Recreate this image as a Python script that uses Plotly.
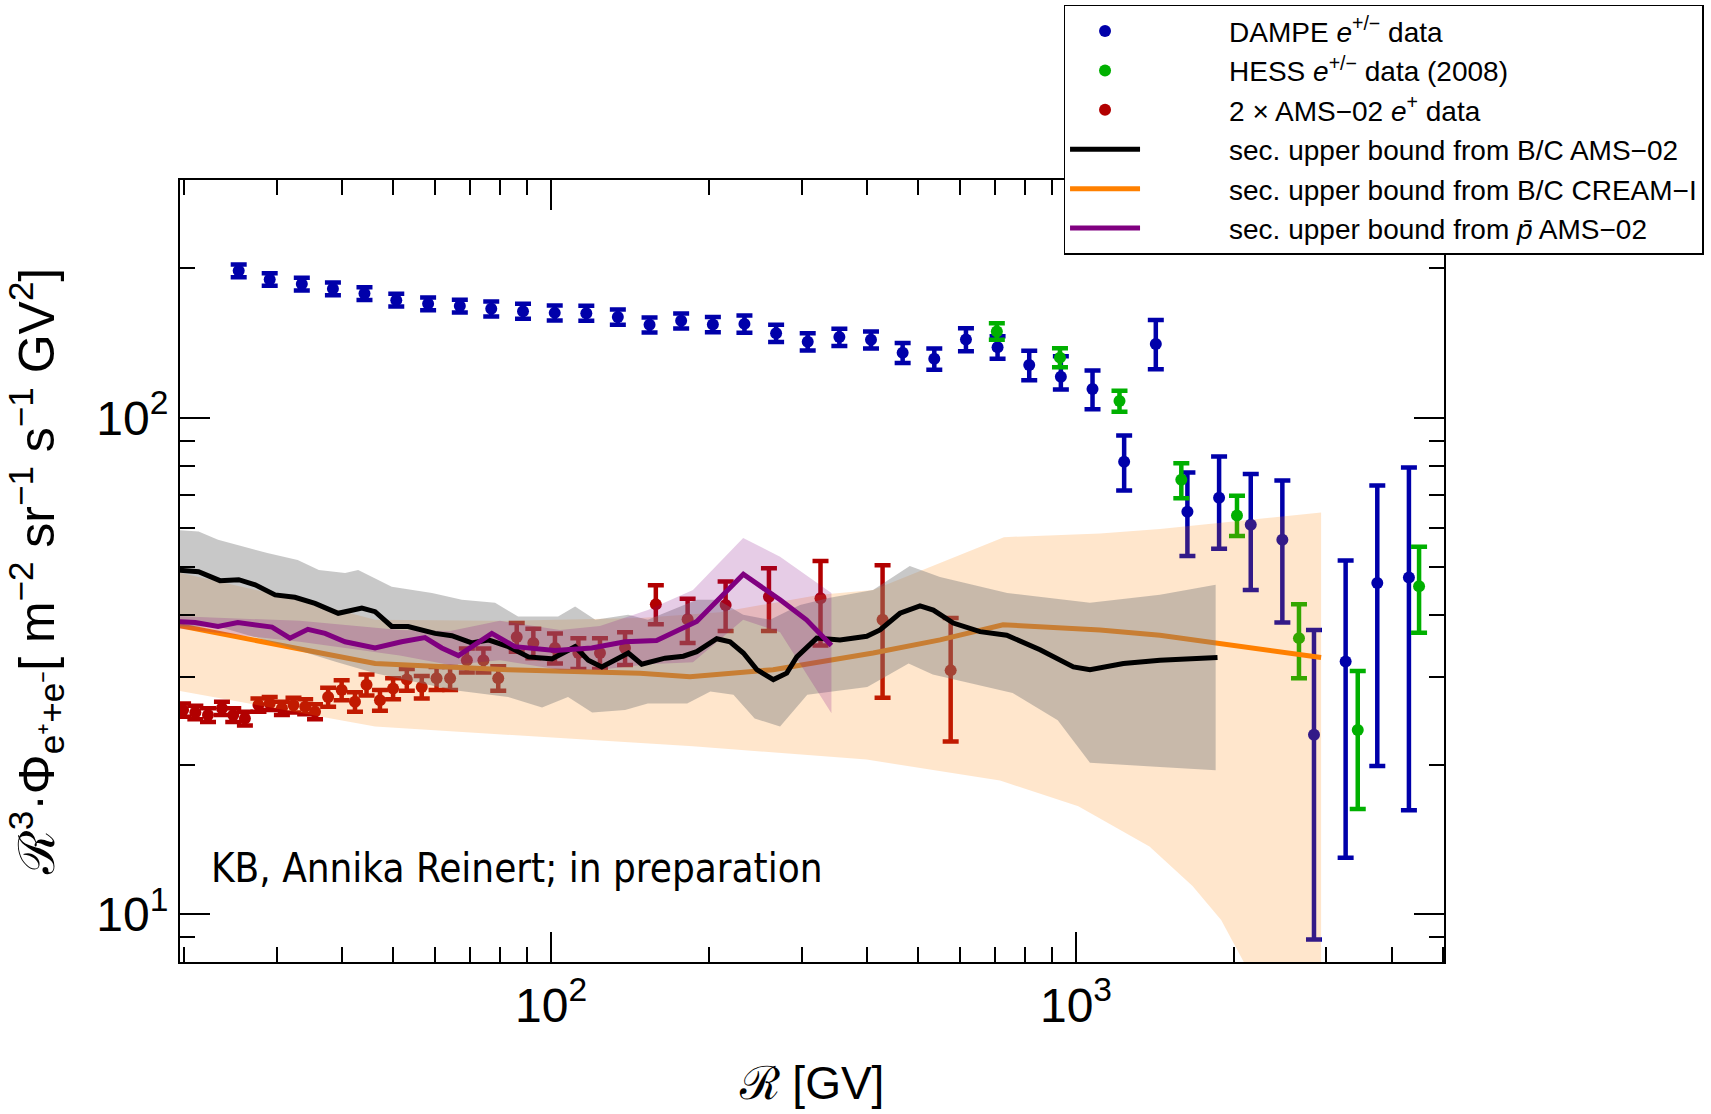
import plotly.graph_objects as go

# ---------------- DAMPE e+/- data ----------------
dampe_R = [25.4, 29.1, 33.5, 38.4, 44.1, 50.7, 58.3, 67.0, 76.9, 88.4, 101.6, 116.7, 134.0,
           154.0, 176.9, 203.3, 233.5, 268.3, 308.2, 354.1, 406.8, 467.4, 537.0, 617.0,
           708.8, 814.4, 935.6, 1075, 1235, 1419, 1630, 1873, 2152, 2472, 2840, 3263, 3749, 4307]
dampe_flux = [197.7, 190.0, 186.0, 182.0, 178.0, 172.6, 169.7, 167.9, 165.8, 164.0, 162.7, 162.5,
              159.6, 153.9, 156.8, 154.2, 154.6, 148.1, 142.3, 145.4, 143.6, 135.2, 131.5, 143.8,
              138.7, 127.8, 121.0, 114.3, 81.6, 140.9, 64.7, 69.0, 60.9, 56.8, 23.0, 32.3, 46.5, 47.7]
dampe_hi = [203.5, 195.6, 191.5, 187.4, 183.3, 177.8, 174.8, 173.0, 171.6, 169.7, 168.4, 168.2,
            165.2, 159.3, 162.3, 159.6, 160.8, 154.0, 148.0, 151.2, 149.3, 141.5, 138.0, 151.5,
            146.0, 136.5, 133.0, 124.5, 92.1, 157.5, 77.6, 83.6, 77.1, 74.8, 37.4, 51.6, 73.1, 79.4]
dampe_lo = [191.9, 184.4, 180.5, 176.6, 172.7, 167.5, 164.6, 162.9, 160.0, 158.3, 157.0, 156.8,
            154.0, 148.5, 151.3, 148.8, 148.4, 142.2, 136.6, 139.6, 137.9, 129.0, 125.0, 136.2,
            131.5, 119.0, 114.0, 104.0, 71.4, 125.3, 52.7, 54.5, 45.0, 38.7, 8.9, 13.0, 19.9, 16.2]

# ---------------- HESS e+/- data (2008) ----------------
hess_R = [706.5, 932, 1210, 1587, 2026, 2659, 3441, 4503]
hess_flux = [149.2, 132.2, 108.1, 75.0, 63.6, 36.0, 23.5, 45.8]
hess_hi = [155.1, 138.1, 113.4, 81.0, 69.7, 42.1, 30.9, 55.0]
hess_lo = [143.6, 126.4, 102.9, 68.9, 57.8, 29.9, 16.3, 36.9]

# ---------------- 2 x AMS-02 e+ data ----------------
ams_R = [19.9, 21.0, 22.2, 23.6, 24.8, 26.1, 27.7, 29.1, 30.7, 32.3, 34.0, 35.5, 37.6, 39.9,
         42.3, 44.5, 47.2, 50.0, 53.1, 56.7, 60.5, 64.2, 69.1, 74.3, 79.3, 86.0, 92.5, 101.7,
         112.7, 123.9, 138.3, 158.3, 182.0, 215.0, 260.0, 326.0, 428.0, 577.0]
ams_flux = [25.8, 25.5, 25.2, 26.0, 25.2, 24.8, 26.4, 26.6, 26.0, 26.4, 26.2, 25.6, 27.4, 28.3,
            26.8, 29.0, 27.0, 28.5, 29.7, 28.7, 29.9, 29.9, 32.5, 32.5, 29.9, 36.2, 35.2, 34.4,
            33.6, 33.6, 34.4, 42.1, 39.3, 42.0, 43.6, 43.3, 39.2, 31.0]
ams_hi = [26.6, 26.3, 26.0, 26.8, 26.0, 25.6, 27.2, 27.4, 26.8, 27.3, 27.1, 26.5, 28.6, 29.6,
          28.0, 30.4, 28.3, 29.9, 31.2, 30.2, 31.5, 31.5, 34.3, 34.3, 31.6, 38.6, 37.6, 36.8,
          36.0, 36.0, 37.0, 46.0, 43.2, 46.8, 49.8, 51.5, 50.5, 39.5]
ams_lo = [25.0, 24.7, 24.4, 25.2, 24.4, 24.0, 25.6, 25.8, 25.2, 25.5, 25.3, 24.7, 26.2, 27.0,
          25.6, 27.6, 25.7, 27.1, 28.2, 27.2, 28.3, 28.3, 30.7, 30.7, 28.2, 33.8, 32.8, 32.0,
          31.2, 31.2, 31.8, 38.4, 35.2, 37.2, 37.2, 34.8, 27.3, 22.3]

# ---------------- secondary upper bound from B/C AMS-02 (black) ----------------
bc_ams_R = [19.2, 21.3, 23.4, 25.4, 27.3, 29.8, 32.5, 35.5, 39.3, 43.6, 46.2, 49.7, 53.4, 60.1,
            64.7, 70.6, 75.9, 82.9, 90.5, 100.3, 111.1, 117.7, 124.9, 140.3, 148.8, 164.8, 178.6,
            189.4, 206.8, 219.2, 232.4, 246.5, 265.1, 281.1, 293.8, 320.6, 355.1, 399.3, 423.2,
            462.0, 504.4, 534.7, 583.7, 656.3, 737.9, 854.0, 988.3, 1063, 1231, 1445, 1860]
bc_ams_flux = [49.4, 49.0, 47.0, 47.2, 46.1, 44.0, 43.5, 42.3, 40.4, 41.4, 40.7, 38.0, 38.0, 36.8,
               36.4, 35.2, 35.7, 34.6, 33.0, 32.7, 34.6, 32.5, 31.5, 33.6, 31.9, 32.8, 33.1,
               33.8, 35.9, 35.4, 33.6, 31.1, 29.7, 30.6, 33.0, 36.0, 35.7, 36.3, 37.4,
               40.4, 41.8, 41.0, 38.6, 37.1, 36.5, 34.1, 31.5, 31.1, 32.0, 32.5, 32.9]
bc_ams_band_R_up = [19.2, 21.3, 23.2, 28.8, 32.9, 36.1, 40.5, 42.9, 49.7, 59.3, 67.6, 78.2, 86.5,
                    103.1, 111.1, 121.4, 140.2, 152.9, 189.6, 207.6, 232.2, 261.3, 298.0, 339.7,
                    410.4, 482.2, 550.6, 739.5, 1063, 1445, 1845]
bc_ams_band_up = [59.5, 59.0, 56.8, 53.4, 51.7, 49.4, 48.7, 49.4, 45.7, 44.4, 43.0, 42.4, 39.8,
                  39.8, 41.7, 39.2, 40.1, 39.2, 43.0, 43.0, 40.1, 39.2, 42.0, 43.4,
                  45.0, 50.3, 47.8, 44.4, 42.4, 44.0, 46.1]
bc_ams_band_R_lo = [19.2, 23.2, 29.8, 38.7, 46.2, 64.9, 82.8, 96.1, 107.7, 119.7, 138.3, 152.8,
                    166.4, 181.6, 201.1, 222.5, 244.2, 273.0, 307.6, 400.2, 479.7, 533.5, 757.3,
                    922.9, 1063, 1445, 1845]
bc_ams_band_lo = [38.0, 38.0, 35.2, 32.3, 30.6, 28.3, 27.4, 26.1, 27.4, 25.5, 25.8, 26.6,
                  26.6, 26.6, 28.1, 27.7, 24.8, 23.9, 27.7, 28.7, 32.0, 30.4, 27.9,
                  24.6, 20.2, 19.8, 19.5]

# ---------------- secondary upper bound from B/C CREAM-I (orange) ----------------
bc_cream_R = [19.2, 46.2, 82.8, 147.7, 183.9, 264.8, 410.6, 550.8, 726, 1111, 1445, 2930]
bc_cream_flux = [38.3, 32.0, 31.1, 30.6, 30.1, 31.1, 33.6, 35.7, 38.3, 37.4, 36.5, 32.9]
bc_cream_band_R_up = [19.2, 33.2, 46.2, 79.9, 147.7, 209.8, 325.3, 410.4, 728.7, 1111, 1445, 2930]
bc_cream_band_up = [49.0, 43.0, 39.2, 39.0, 39.5, 40.6, 44.0, 45.0, 57.5, 58.5, 59.7, 64.5]
bc_cream_band_R_lo = [19.2, 46.2, 186.3, 398.9, 716.5, 1010, 1380, 1667, 1890, 2087, 2330, 2671, 2930]
bc_cream_band_lo = [28.3, 23.9, 21.8, 20.5, 18.6, 16.5, 13.7, 11.4, 9.74, 8.02, 6.4, 4.6, 3.5]

# ---------------- secondary upper bound from pbar AMS-02 (purple) ----------------
pbar_R = [19.2, 21.0, 23.2, 25.3, 29.4, 31.8, 34.4, 37.1, 40.5, 46.2, 51.9, 57.5, 61.9, 66.6,
          77.1, 85.3, 101.7, 119.5, 138.3, 158.8, 189.4, 232.4, 273.0, 306.5, 342.0]
pbar_flux = [38.9, 38.7, 38.0, 38.7, 37.9, 36.0, 37.5, 36.8, 35.4, 34.4, 35.4, 36.1, 34.4, 33.2,
             36.8, 34.6, 34.0, 34.4, 35.4, 35.6, 38.9, 48.4, 43.0, 39.2, 34.8]
pbar_band_R = [19.2, 33.2, 51.5, 64.2, 79.9, 104.0, 123.9, 152.9, 186.3, 232.2, 273.0, 342.0]
pbar_band_up = [39.9, 39.0, 37.4, 37.2, 39.0, 37.4, 38.1, 41.0, 45.0, 57.3, 52.5, 44.4]
pbar_band_lo = [37.7, 35.4, 33.2, 31.8, 32.5, 31.1, 31.1, 31.9, 32.2, 39.2, 37.0, 25.4]

BLUE = "rgb(0,0,170)"
GREEN = "rgb(0,176,0)"
RED = "rgb(178,0,0)"
BLACK = "black"
ORANGE = "rgb(255,128,0)"
PURPLE = "rgb(128,0,128)"

TEXT_FONT = "Liberation Sans, Arial, Helvetica, sans-serif"
NARROW_FONT = "Liberation Sans Narrow, Arial Narrow, Liberation Sans, sans-serif"
PAD = "\u2003\u2003\u2003"  # gap between legend symbol and label


def data_trace(R, flux, hi, lo, color, name, rank):
    return go.Scatter(
        x=R, y=flux, mode="markers", name=PAD + name, legendrank=rank,
        marker=dict(color=color, size=12, line=dict(width=0)),
        error_y=dict(type="data", symmetric=False,
                     array=[h - v for v, h in zip(flux, hi)],
                     arrayminus=[v - l for v, l in zip(flux, lo)],
                     color=color, thickness=4.5, width=8),
        hoverinfo="x+y",
    )


def band_trace(R_up, up, R_lo, lo, fillcolor):
    return go.Scatter(
        x=list(R_up) + list(R_lo)[::-1], y=list(up) + list(lo)[::-1],
        mode="lines", fill="toself", fillcolor=fillcolor,
        line=dict(width=0, color=fillcolor), showlegend=False, hoverinfo="skip",
    )


def line_trace(R, flux, color, name, rank):
    return go.Scatter(x=R, y=flux, mode="lines", name=PAD + name, legendrank=rank,
                      line=dict(color=color, width=5))


fig = go.Figure()

# measurements sit underneath the translucent bands
fig.add_trace(data_trace(dampe_R, dampe_flux, dampe_hi, dampe_lo, BLUE,
                         "DAMPE <i>e</i><sup>+/−</sup> data", 1))
fig.add_trace(data_trace(hess_R, hess_flux, hess_hi, hess_lo, GREEN,
                         "HESS <i>e</i><sup>+/−</sup> data (2008)", 2))
fig.add_trace(data_trace(ams_R, ams_flux, ams_hi, ams_lo, RED,
                         "2 × AMS−02 <i>e</i><sup>+</sup> data", 3))

fig.add_trace(line_trace(bc_cream_R, bc_cream_flux, ORANGE,
                         "sec. upper bound from B/C CREAM−I", 5))

fig.add_trace(band_trace(bc_cream_band_R_up, bc_cream_band_up, bc_cream_band_R_lo,
                         bc_cream_band_lo, "rgba(255,128,0,0.2)"))
fig.add_trace(band_trace(bc_ams_band_R_up, bc_ams_band_up, bc_ams_band_R_lo,
                         bc_ams_band_lo, "rgba(125,125,125,0.42)"))
fig.add_trace(band_trace(pbar_band_R, pbar_band_up, pbar_band_R, pbar_band_lo,
                         "rgba(128,0,128,0.2)"))

fig.add_trace(line_trace(bc_ams_R, bc_ams_flux, BLACK,
                         "sec. upper bound from B/C AMS−02", 4))
fig.add_trace(line_trace(pbar_R, pbar_flux, PURPLE,
                         "sec. upper bound from <i>p̄</i> AMS−02", 6))

x_minor = [m * 10 ** e for e in (1, 2, 3) for m in range(2, 10)]
y_minor = [m * 10 ** e for e in (0, 1, 2) for m in range(2, 10)]

axis_common = dict(
    type="log", showline=True, linecolor="black", linewidth=2, mirror="allticks",
    ticks="inside", ticklen=30, tickwidth=1.5, tickcolor="black",
    showgrid=False, zeroline=False,
    tickfont=dict(family=NARROW_FONT, size=48, color="black"),
)

fig.update_layout(
    width=1711, height=1114,
    margin=dict(l=180, r=267, t=180, b=152, autoexpand=False),
    paper_bgcolor="white", plot_bgcolor="white",
    font=dict(family=TEXT_FONT, color="black"),
    xaxis=dict(
        **axis_common, range=[1.293, 3.701],
        tickvals=[100, 1000], ticktext=["10<sup>2</sup>", "10<sup>3</sup>"],
        minor=dict(tickvals=x_minor, ticks="inside", ticklen=15, tickwidth=1.5,
                   tickcolor="black", showgrid=False),
        title=dict(text="ℛ [GV]", font=dict(family=NARROW_FONT, size=46), standoff=36),
    ),
    yaxis=dict(
        **axis_common, range=[0.904, 2.479],
        tickvals=[10, 100], ticktext=["10<sup>1</sup>", "10<sup>2</sup>"],
        minor=dict(tickvals=y_minor, ticks="inside", ticklen=15, tickwidth=1.5,
                   tickcolor="black", showgrid=False),
        title=dict(text="ℛ<sup>3</sup>·Φ<sub>e⁺+e⁻</sub>[ m<sup>−2</sup> sr<sup>−1</sup> s<sup>−1</sup> GV<sup>2</sup>]",
                   font=dict(family=TEXT_FONT, size=50), standoff=26),
    ),
    legend=dict(
        x=0.699, y=1.224, xanchor="left", yanchor="top",
        bgcolor="white", bordercolor="black", borderwidth=1.5,
        font=dict(family=TEXT_FONT, size=28, color="black"),
        itemwidth=70, tracegroupgap=0,
    ),
    annotations=[dict(
        text="KB, Annika Reinert; in preparation", xref="paper", yref="paper",
        x=0.0233, y=0.1208, xanchor="left", yanchor="middle", showarrow=False,
        font=dict(family="DejaVu Sans Condensed, DejaVu Sans, sans-serif", size=40, color="black"),
    )],
)

fig.write_html("out.html")
